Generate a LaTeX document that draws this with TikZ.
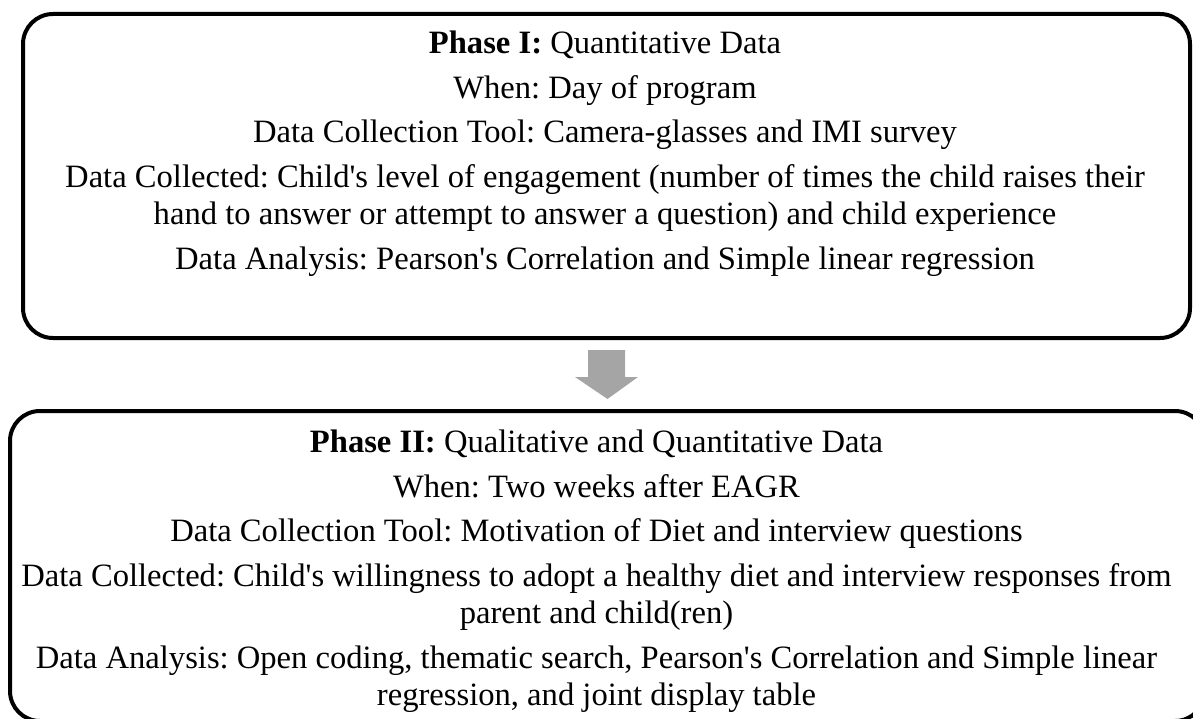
\documentclass[tikz,border=0pt]{standalone}
\usepackage{fontspec}
\setmainfont{Liberation Serif}[Ligatures=TeXOff]
\usetikzlibrary{calc}
\definecolor{arrowgray}{HTML}{A5A5A5}
\frenchspacing
\begin{document}
\begin{tikzpicture}[x=1pt,y=-1pt,
  phasebox/.style={draw=black, line width=4pt, rounded corners=30pt, inner sep=0pt},
  txt/.style={anchor=base, inner sep=0pt, font=\fontsize{32.6}{37.5}\selectfont\frenchspacing},
  blockarrow/.style={fill=arrowgray, draw=none}]
\useasboundingbox (0,0) rectangle (1193,719);
\clip (0,0) rectangle (1193,719);
% boxes
\node[phasebox, minimum width=1167pt, minimum height=324pt] (p1) at (606.5,176) {};
\node[phasebox, minimum width=1195pt, minimum height=310pt] (p2) at (607.5,566) {};
% block arrow between the boxes
\coordinate (arrtop) at ($(p1.south)+(0,10)$);
\coordinate (arrtip) at ($(p2.north)+(0,-10)$);
\fill[blockarrow] ($(arrtop)+(-18.5,0)$) -- ($(arrtop)+(18.5,0)$) -- ($(arrtop)+(18.5,27)$) -- ($(arrtop)+(31.5,27)$) -- (arrtip) -- ($(arrtop)+(-31.5,27)$) -- ($(arrtop)+(-18.5,27)$) -- cycle;
% Phase I text
\node[txt] (a1) at (605,54) {\textbf{Phase I:} Quantitative Data};
\node[txt] (a2) at (605,98.5) {When: Day of program};
\node[txt] (a3) at (605,143) {Data Collection Tool: Camera-glasses and IMI survey};
\node[txt] (a4) at (605,187.5) {Data Collected: Child's level of engagement (number of times the child raises their};
\node[txt] (a5) at (605,225) {hand to answer or attempt to answer a question) and child experience};
\node[txt] (a6) at (605,269.5) {Data Analysis: Pearson's Correlation and Simple linear regression};
% Phase II text
\node[txt] (b1) at (596.5,452) {\textbf{Phase II:} Qualitative and Quantitative Data};
\node[txt] (b2) at (596.5,497) {When: Two weeks after EAGR};
\node[txt] (b3) at (596.5,541.5) {Data Collection Tool: Motivation of Diet and interview questions};
\node[txt] (b4) at (596.5,586) {Data Collected: Child's willingness to adopt a healthy diet and interview responses from};
\node[txt] (b5) at (596.5,623.5) {parent and child(ren)};
\node[txt] (b6) at (596.5,668) {Data Analysis: Open coding, thematic search, Pearson's Correlation and Simple linear};
\node[txt] (b7) at (596.5,705.5) {regression, and joint display table};
\end{tikzpicture}
\end{document}
